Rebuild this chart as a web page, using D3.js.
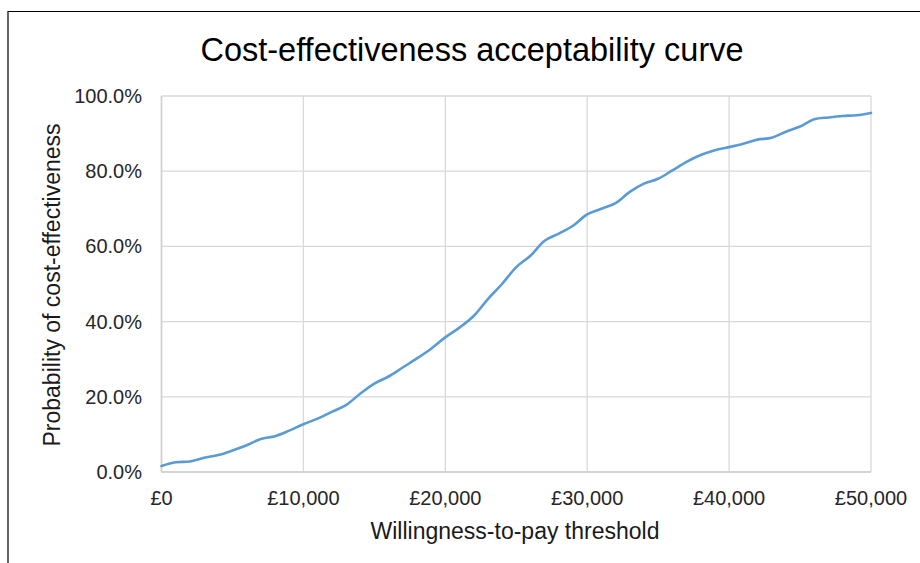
<!DOCTYPE html>
<html>
<head>
<meta charset="utf-8">
<script src="https://cdn.jsdelivr.net/npm/d3@7"></script>
<style>
  body { margin: 0; background: #fff; }
  svg { display: block; font-family: "Liberation Sans", Arial, sans-serif; }
</style>
</head>
<body>
<div id="chart"></div>
<script>
// Willingness-to-pay thresholds (£) and probability of cost-effectiveness (%)
const wtp = [0, 1000, 2000, 3000, 4000, 5000, 6000, 7000, 8000, 9000,
  10000, 11000, 12000, 13000, 14000, 15000, 16000, 17000, 18000, 19000,
  20000, 21000, 22000, 23000, 24000, 25000, 26000, 27000, 28000, 29000,
  30000, 31000, 32000, 33000, 34000, 35000, 36000, 37000, 38000, 39000,
  40000, 41000, 42000, 43000, 44000, 45000, 46000, 47000, 48000, 49000, 50000];
const prob = [1.6, 2.6, 2.8, 3.8, 4.5, 5.7, 7.1, 8.8, 9.5, 11.0,
  12.7, 14.2, 16.0, 17.8, 20.8, 23.5, 25.4, 27.8, 30.2, 32.8,
  35.8, 38.4, 41.5, 46.0, 50.0, 54.5, 57.5, 61.5, 63.4, 65.5,
  68.5, 70.0, 71.5, 74.5, 76.7, 78.0, 80.2, 82.5, 84.3, 85.6,
  86.4, 87.3, 88.4, 88.9, 90.5, 91.9, 93.8, 94.3, 94.7, 94.9, 95.5];
const xTicks = [0, 10000, 20000, 30000, 40000, 50000];
const yTicks = [0, 20, 40, 60, 80, 100];

const width = 920, height = 563;
const margin = { top: 96, right: 49, bottom: 91, left: 161.5 };

const svg = d3.select("#chart").append("svg")
  .attr("width", width)
  .attr("height", height);

// chart area border (only top and left are in frame)
svg.append("path")
  .attr("d", `M8,${height} V11.5 H${width}`)
  .attr("fill", "none")
  .attr("stroke", "#000")
  .attr("stroke-width", 1.2);

const x = d3.scaleLinear().domain([0, 50000])
  .range([margin.left, width - margin.right]);
const y = d3.scaleLinear().domain([0, 100])
  .range([height - margin.bottom, margin.top]);

// gridlines
svg.append("g")
  .selectAll("line")
  .data(yTicks)
  .join("line")
  .attr("x1", x(0)).attr("x2", x(50000))
  .attr("y1", d => y(d)).attr("y2", d => y(d))
  .attr("stroke", "#d9d9d9").attr("stroke-width", 1.3);

svg.append("g")
  .selectAll("line")
  .data(xTicks)
  .join("line")
  .attr("y1", y(0)).attr("y2", y(100))
  .attr("x1", d => x(d)).attr("x2", d => x(d))
  .attr("stroke", "#d9d9d9").attr("stroke-width", 1.3);

// axis lines
svg.append("line")
  .attr("x1", x(0)).attr("x2", x(0)).attr("y1", y(0)).attr("y2", y(100))
  .attr("stroke", "#cfcfcf").attr("stroke-width", 1.5);
svg.append("line")
  .attr("x1", x(0)).attr("x2", x(50000)).attr("y1", y(0)).attr("y2", y(0))
  .attr("stroke", "#cfcfcf").attr("stroke-width", 1.5);

// tick labels
svg.append("g")
  .selectAll("text")
  .data(xTicks)
  .join("text")
  .attr("x", d => x(d))
  .attr("y", 505)
  .attr("text-anchor", "middle")
  .attr("font-size", 20)
  .attr("fill", "#262626")
  .text(d => "£" + d3.format(",")(d));

svg.append("g")
  .selectAll("text")
  .data(yTicks)
  .join("text")
  .attr("x", 142)
  .attr("y", d => y(d) + 7)
  .attr("text-anchor", "end")
  .attr("font-size", 20)
  .attr("fill", "#262626")
  .text(d => d.toFixed(1) + "%");

// the curve (Excel-style smoothed line)
const line = d3.line()
  .x((d, i) => x(wtp[i]))
  .y(d => y(d))
  .curve(d3.curveCatmullRom);

svg.append("path")
  .datum(prob)
  .attr("d", line)
  .attr("fill", "none")
  .attr("stroke", "#5b9bd5")
  .attr("stroke-width", 2.6)
  .attr("stroke-linecap", "round");

// titles
svg.append("text")
  .attr("x", 472)
  .attr("y", 61)
  .attr("text-anchor", "middle")
  .attr("font-size", 32.5)
  .attr("fill", "#000")
  .text("Cost-effectiveness acceptability curve");

svg.append("text")
  .attr("x", 515)
  .attr("y", 539)
  .attr("text-anchor", "middle")
  .attr("font-size", 23)
  .attr("fill", "#1a1a1a")
  .text("Willingness-to-pay threshold");

svg.append("text")
  .attr("transform", `translate(60, 285) rotate(-90)`)
  .attr("text-anchor", "middle")
  .attr("font-size", 23)
  .attr("fill", "#1a1a1a")
  .text("Probability of cost-effectiveness");
</script>
</body>
</html>
